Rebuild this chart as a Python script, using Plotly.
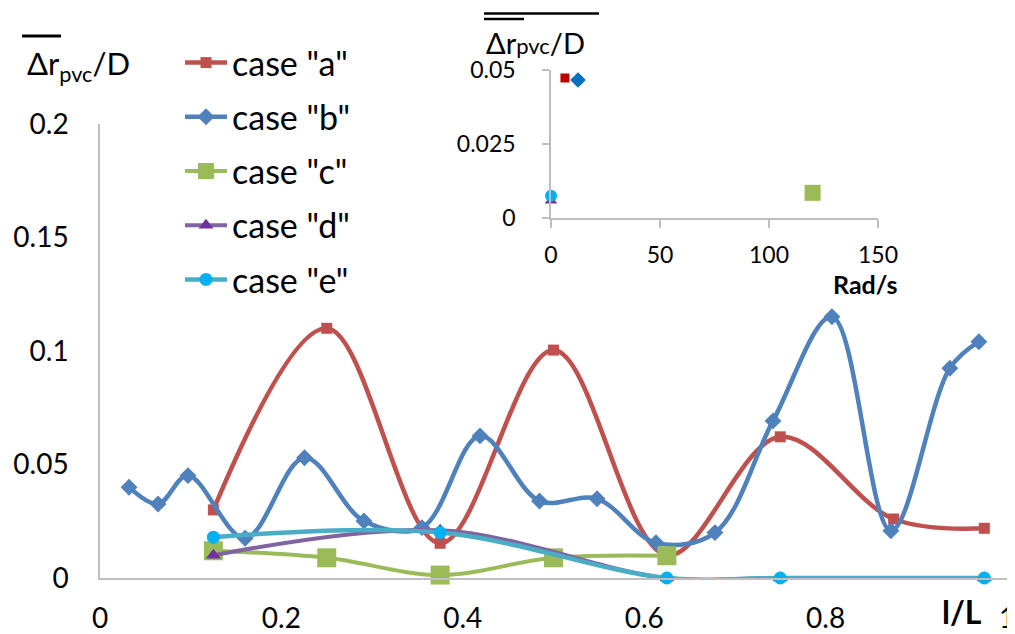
import plotly.graph_objects as go

# ---------------- data ----------------
x_a = [0.125, 0.25, 0.375, 0.5, 0.625, 0.75, 0.875, 0.975]
y_a = [0.030, 0.110, 0.0153, 0.1004, 0.010, 0.0622, 0.026, 0.0219]

x_b = [0.032, 0.064, 0.097, 0.160, 0.2255, 0.291, 0.355, 0.419, 0.4846,
       0.548, 0.613, 0.678, 0.742, 0.807, 0.872, 0.937, 0.969]
y_b = [0.040, 0.0326, 0.0451, 0.0175, 0.053, 0.0251, 0.0222, 0.0626, 0.0339,
       0.0349, 0.0155, 0.0200, 0.0692, 0.1151, 0.0208, 0.0924, 0.1041]

x_c = [0.125, 0.25, 0.375, 0.5, 0.625]
y_c = [0.012, 0.0089, 0.0013, 0.0089, 0.0098]

x_d = [0.125, 0.375, 0.625, 0.75, 0.975]
y_d = [0.010, 0.021, 0.0, 0.0, 0.0]

x_e = [0.125, 0.375, 0.625, 0.75, 0.975]
y_e = [0.018, 0.020, 0.0, 0.0, 0.0]

case_names = ['case "a"', 'case "b"', 'case "c"', 'case "d"', 'case "e"']

# inset: mean value vs rotation speed
inset_rad = [6.4, 12.4, 120, 0, 0]
inset_val = [0.0473, 0.0466, 0.0085, 0.0058, 0.0075]

x_ticks = [0, 0.2, 0.4, 0.6, 0.8, 1]
x_ticktext = ["0", "0.2", "0.4", "0.6", "0.8", "1"]
y_ticks = [0, 0.05, 0.1, 0.15, 0.2]
y_ticktext = ["0", "0.05", "0.1", "0.15", "0.2"]
ix_ticks = [0, 50, 100, 150]
iy_ticks = [0, 0.025, 0.05]
iy_ticktext = ["0", "0.025", "0.05"]

# ---------------- styles ----------------
FONT = "Lato"
line_cols = ["#C0504D", "#4F81BD", "#9BBB59", "#8064A2", "#4BACC6"]
mk_cols = ["#C0504D", "#4F81BD", "#9BBB59", "#7030A0", "#00B0F0"]
mk_syms = ["square", "diamond", "square", "triangle-up", "circle"]
mk_sizes = [11, 13, 19, 13, 13]
line_ws = [4.5, 4.5, 4, 4, 4.5]
inset_cols = ["#C00000", "#0070C0", "#9BBB59", "#7030A0", "#00B0F0"]
inset_sizes = [9, 12, 16, 11, 12]

series = [(x_a, y_a), (x_b, y_b), (x_c, y_c), (x_d, y_d), (x_e, y_e)]

fig = go.Figure()
for i, (xs, ys) in enumerate(series):
    fig.add_trace(go.Scatter(
        x=xs, y=ys, mode="lines+markers", name=case_names[i],
        legendgroup=f"g{i}",
        line=dict(color=line_cols[i], width=line_ws[i], shape="spline", smoothing=1),
        marker=dict(symbol=mk_syms[i], size=mk_sizes[i], color=mk_cols[i]),
        cliponaxis=False, xaxis="x", yaxis="y",
    ))

for i in range(5):
    fig.add_trace(go.Scatter(
        x=[inset_rad[i]], y=[inset_val[i]], mode="markers", showlegend=False,
        marker=dict(symbol=mk_syms[i], size=inset_sizes[i], color=inset_cols[i]),
        cliponaxis=False, xaxis="x2", yaxis="y2",
    ))

# the page body adds an 8px offset; margins are set in figure pixels
W, H = 1015, 634
L, R, T, B = 92, 16, 2, 64
PW, PH = W - L - R, H - T - B


def px(xp):
    # reference-screen x pixel -> paper fraction
    return (xp - 8 - L) / PW


def py(yp):
    # reference-screen y pixel -> paper fraction
    return (H - B - (yp - 8)) / PH


axis_col = "#BFBFBF"
fig.update_layout(
    width=W, height=H, autosize=False,
    margin=dict(l=L, r=R, t=T, b=B, autoexpand=False),
    paper_bgcolor="white", plot_bgcolor="white",
    font=dict(family=FONT, color="black"),
    xaxis=dict(domain=[0, 1], range=[0, 1], showgrid=False, zeroline=False,
               showline=True, linecolor=axis_col, linewidth=2, automargin=False,
               tickvals=x_ticks, ticktext=x_ticktext, ticks="",
               tickfont=dict(size=28, family=FONT), ticklabelstandoff=14),
    yaxis=dict(domain=[0, py(124)], range=[0, 0.2], showgrid=False, zeroline=False,
               showline=True, linecolor=axis_col, linewidth=1.5, automargin=False,
               tickvals=y_ticks, ticktext=y_ticktext, ticks="",
               tickfont=dict(size=28, family=FONT), ticklabelstandoff=24),
    xaxis2=dict(domain=[px(551), px(878)], range=[0, 150], anchor="y2",
                showgrid=False, zeroline=False, showline=True, linecolor=axis_col,
                linewidth=1.5, tickvals=ix_ticks, ticks="outside", ticklen=8,
                tickcolor=axis_col, tickwidth=1.5, automargin=False,
                tickfont=dict(size=23, family=FONT), ticklabelstandoff=8),
    yaxis2=dict(domain=[py(218), py(70)], range=[0, 0.05], anchor="x2",
                showgrid=False, zeroline=False, showline=True, linecolor=axis_col,
                linewidth=1.5, tickvals=iy_ticks, ticktext=iy_ticktext,
                ticks="outside", ticklen=7, tickcolor=axis_col, tickwidth=1.5,
                automargin=False,
                tickfont=dict(size=23, family=FONT), ticklabelstandoff=22),
    legend=dict(x=px(180), y=py(34), xanchor="left", yanchor="top",
                bgcolor="rgba(0,0,0,0)", font=dict(size=34, family=FONT),
                tracegroupgap=7, itemwidth=42),
    showlegend=True,
)

# axis titles and text
fig.add_annotation(x=px(25), y=py(65), xref="paper", yref="paper",
                   xanchor="left", yanchor="middle", showarrow=False,
                   text="Δr<sub>pvc</sub>/D", font=dict(size=31, family=FONT))
fig.add_annotation(x=px(484), y=py(42), xref="paper", yref="paper",
                   xanchor="left", yanchor="middle", showarrow=False,
                   text="Δr<span style='font-size:22px'>pvc</span>/D",
                   font=dict(size=29, family=FONT))
fig.add_annotation(x=px(865), y=py(284), xref="paper", yref="paper",
                   xanchor="center", yanchor="middle", showarrow=False,
                   text="<b>Rad/s</b>", font=dict(size=25, family=FONT))
fig.add_annotation(x=px(962), y=py(611), xref="paper", yref="paper",
                   xanchor="center", yanchor="middle", showarrow=False,
                   text="<b>l/L</b>", font=dict(size=32, family=FONT))

# overlines
for (x0, x1, yy, w) in [(22, 61, 36, 3), (484, 599, 13.5, 2.5), (484, 524, 19, 2.5)]:
    fig.add_shape(type="line", xref="paper", yref="paper",
                  x0=px(x0), x1=px(x1), y0=py(yy), y1=py(yy),
                  line=dict(color="black", width=w))

fig.write_html("out.html")
